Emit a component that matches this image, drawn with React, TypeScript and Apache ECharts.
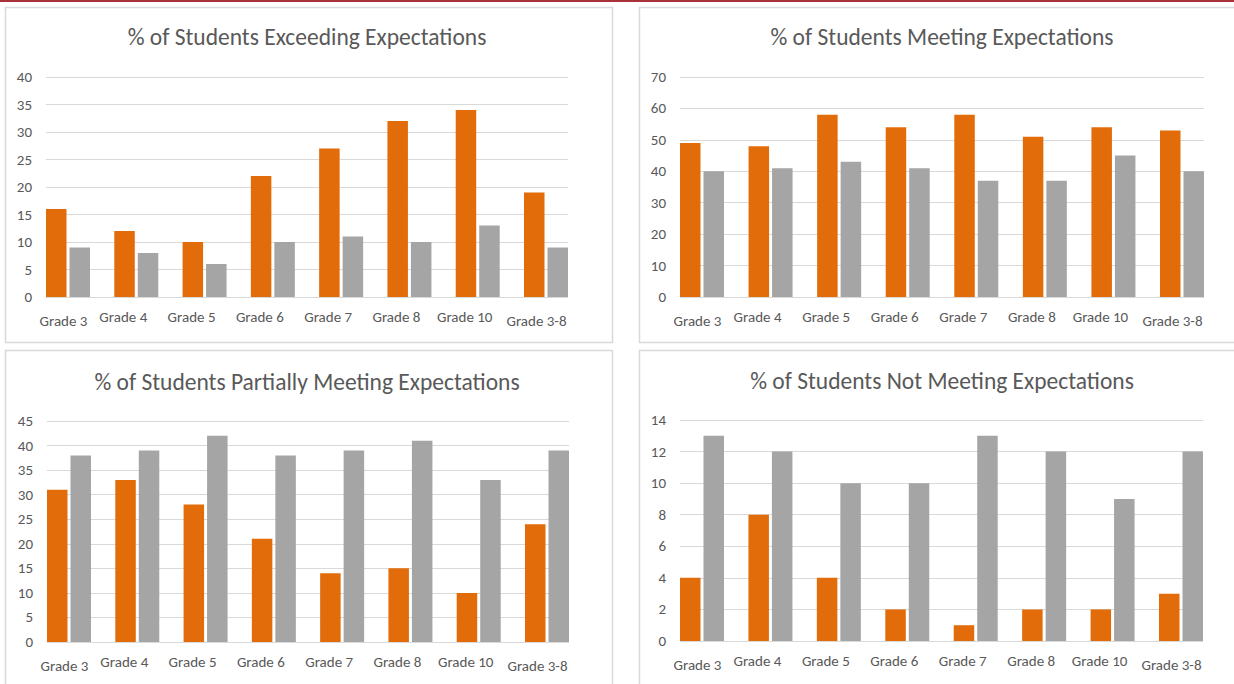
import React, { useEffect, useRef } from "react";
import * as echarts from "echarts";

const categories = ["Grade 3", "Grade 4", "Grade 5", "Grade 6", "Grade 7", "Grade 8", "Grade 10", "Grade 3-8"];

const exceedingA = [16, 12, 10, 22, 27, 32, 34, 19];
const exceedingB = [9, 8, 6, 10, 11, 10, 13, 9];

const meetingA = [49, 48, 58, 54, 58, 51, 54, 53];
const meetingB = [40, 41, 43, 41, 37, 37, 45, 40];

const partialA = [31, 33, 28, 21, 14, 15, 10, 24];
const partialB = [38, 39, 42, 38, 39, 41, 33, 39];

const notMeetingA = [4, 8, 4, 2, 1, 2, 2, 3];
const notMeetingB = [13, 12, 10, 10, 13, 12, 9, 12];

const titles = [
  "% of Students Exceeding Expectations",
  "% of Students Meeting Expectations",
  "% of Students Partially Meeting Expectations",
  "% of Students Not Meeting Expectations",
];
const yMax = [40, 70, 45, 14];
const yInterval = [5, 10, 5, 2];
const seriesA = [exceedingA, meetingA, partialA, notMeetingA];
const seriesB = [exceedingB, meetingB, partialB, notMeetingB];

// layout (pixels)
const panels = [
  { box: [5, 7, 607, 335], titleX: 307, titleY: 25, top: 77, height: 220, left: 46, width: 522 },
  { box: [639, 7, 620, 335], titleX: 942, titleY: 25, top: 77, height: 220, left: 680, width: 524 },
  { box: [5, 350, 607, 360], titleX: 307, titleY: 370, top: 421, height: 221, left: 47, width: 522 },
  { box: [639, 350, 620, 360], titleX: 942, titleY: 369, top: 420, height: 221, left: 680, width: 523 },
];

const ORANGE = "#E36C0A";
const GRAY = "#A5A5A5";
const TEXT = "#595959";
const GRID = "#D9D9D9";
const FONT = "Carlito, 'Open Sans', sans-serif";
const BAR_W = 20.5;
const BAR_GAP = 3;

export default function App() {
  const ref = useRef<HTMLDivElement>(null);
  useEffect(() => {
    if (!ref.current) return;
    const chart = echarts.init(ref.current, undefined, { renderer: "svg" });
    const grids: any[] = [];
    const xAxes: any[] = [];
    const yAxes: any[] = [];
    const series: any[] = [];
    const title: any[] = [];
    const graphic: any[] = [
      { type: "rect", shape: { x: 0, y: 0, width: 1234, height: 2 }, style: { fill: "#A8323A" }, silent: true },
    ];
    const lbl = { color: TEXT, fontFamily: FONT, fontSize: 15 };
    panels.forEach((p, i) => {
      graphic.push({
        type: "rect",
        shape: { x: p.box[0] + 0.5, y: p.box[1] + 0.5, width: p.box[2], height: p.box[3] },
        style: { fill: "none", stroke: GRID, lineWidth: 1.5 },
        silent: true,
      });
      title.push({
        text: titles[i],
        left: p.titleX,
        top: p.titleY,
        padding: 0,
        textAlign: "center",
        textStyle: { color: TEXT, fontFamily: FONT, fontSize: 23.5, fontWeight: "normal" },
      });
      const pair = 2 * BAR_W + BAR_GAP;
      const band = (p.width - pair) / (categories.length - 1);
      const aLeft = p.left + pair / 2 - band / 2;
      const aWidth = band * categories.length;
      // grid A: bars + category labels
      grids.push({ left: aLeft, top: p.top, width: aWidth, height: p.height });
      // grid B: gridlines + y labels
      grids.push({ left: p.left, top: p.top, width: p.width, height: p.height });
      const gA = 2 * i;
      const gB = 2 * i + 1;
      xAxes.push({
        type: "category",
        gridIndex: gA,
        data: categories,
        axisLine: { show: false },
        axisTick: { show: false },
        axisLabel: {
          ...lbl,
          margin: 12,
          interval: 0,
          formatter: (v: string, idx: number) =>
            idx === 0 ? `{first|${v}}` : idx === categories.length - 1 ? `{last|${v}}` : `{mid|${v}}`,
          rich: {
            first: { ...lbl, padding: [4, 9, 0, 0] },
            mid: { ...lbl, padding: [0, 26, 0, 0] },
            last: { ...lbl, padding: [4, 19, 0, 0] },
          },
        },
      });
      xAxes.push({
        type: "category",
        gridIndex: gB,
        data: categories,
        show: false,
      });
      yAxes.push({ type: "value", gridIndex: gA, min: 0, max: yMax[i], interval: yInterval[i], show: false });
      yAxes.push({
        type: "value",
        gridIndex: gB,
        min: 0,
        max: yMax[i],
        interval: yInterval[i],
        axisLine: { show: false },
        axisTick: { show: false },
        axisLabel: { ...lbl, margin: 14 },
        splitLine: { show: true, lineStyle: { color: GRID, width: 1 } },
      });
      series.push({
        type: "bar",
        xAxisIndex: gA,
        yAxisIndex: gA,
        data: seriesA[i],
        barWidth: BAR_W,
        barGap: (BAR_GAP / BAR_W) * 100 + "%",
        itemStyle: { color: ORANGE },
        z: 3,
      });
      series.push({
        type: "bar",
        xAxisIndex: gA,
        yAxisIndex: gA,
        data: seriesB[i],
        barWidth: BAR_W,
        barGap: (BAR_GAP / BAR_W) * 100 + "%",
        itemStyle: { color: GRAY },
        z: 3,
      });
    });
    chart.setOption({
      animation: false,
      backgroundColor: "#ffffff",
      title,
      grid: grids,
      xAxis: xAxes,
      yAxis: yAxes,
      series,
      graphic,
    });
    return () => chart.dispose();
  }, []);
  return (
    <div
      ref={ref}
      style={{ position: "absolute", left: 0, top: 0, width: 1234, height: 684, background: "#fff" }}
    />
  );
}
